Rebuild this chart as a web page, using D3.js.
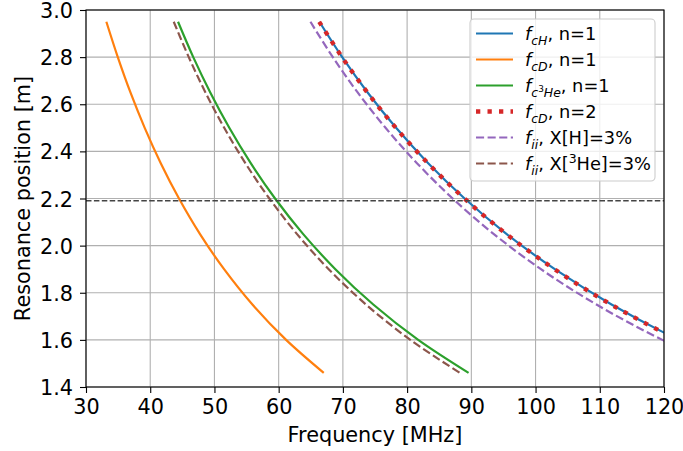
<!DOCTYPE html>
<html><head><meta charset="utf-8">
<script src="https://cdn.jsdelivr.net/npm/d3@7"></script>
<style>body{margin:0;background:#fff}svg{display:block}</style>
</head><body>
<svg id="c" width="683" height="451"></svg>
<script>
// Resonance position [m] (shared sample positions along each curve)
const radius = [2.95, 2.80, 2.65, 2.50, 2.35, 2.20, 2.05, 1.90, 1.75, 1.60, 1.46];
// Frequencies [MHz] read at those positions
const fcH1   = [66.34, 69.89, 73.85, 78.28, 83.28, 88.95, 95.46, 103.00, 111.83, 122.31, 134.04];
const fcD1   = [33.17, 34.95, 36.92, 39.14, 41.64, 44.48, 47.73, 51.50, 55.91, 61.16, 67.02];
const fcHe1  = [44.33, 46.70, 49.35, 52.31, 55.65, 59.44, 63.79, 68.83, 74.73, 81.73, 89.57];
const fcD2   = [66.31, 69.86, 73.81, 78.24, 83.23, 88.91, 95.41, 102.95, 111.77, 122.25, 133.97];
const fiiH   = [64.95, 68.43, 72.30, 76.64, 81.53, 87.09, 93.46, 100.84, 109.49, 119.75, 131.23];
const fiiHe  = [43.66, 46.00, 48.60, 51.52, 54.81, 58.55, 62.83, 67.79, 73.60, 80.50, 88.22];
const refPosition = 2.19;
const xTicks = [30, 40, 50, 60, 70, 80, 90, 100, 110, 120];
const yTicks = [1.4, 1.6, 1.8, 2.0, 2.2, 2.4, 2.6, 2.8, 3.0];
const xTitle = "Frequency [MHz]";
const yTitle = "Resonance position [m]";

const series = [
  {vals: fcH1,  color: "#1f77b4", w: 2.2, dash: null,
   label: [["f","i",0],["cH","i",1],[", n=1","n",0]]},
  {vals: fcD1,  color: "#ff7f0e", w: 2.2, dash: null,
   label: [["f","i",0],["cD","i",1],[", n=1","n",0]]},
  {vals: fcHe1, color: "#2ca02c", w: 2.2, dash: null,
   label: [["f","i",0],["c","i",1],["3","n",3],["He","i",1],[", n=1","n",0]]},
  {vals: fcD2,  color: "#d62728", w: 4.3, dash: "4.3 7.2",
   label: [["f","i",0],["cD","i",1],[", n=2","n",0]]},
  {vals: fiiH,  color: "#9467bd", w: 2.2, dash: "8.1 3.5",
   label: [["f","i",0],["ii","i",1],[", X[H]=3%","n",0]]},
  {vals: fiiHe, color: "#8c564b", w: 2.2, dash: "8.1 3.5",
   label: [["f","i",0],["ii","i",1],[", X[","n",0],["3","n",2],["He]=3%","n",0]]}
];

const L = 86, R = 664, T = 10, B = 387;
const svg = d3.select("#c");
const font = "DejaVu Sans, sans-serif";
const x = d3.scaleLinear().domain([30, 120]).range([L, R]);
const y = d3.scaleLinear().domain([1.4, 3.0]).range([B, T]);

// grid
svg.append("g").selectAll("line").data(xTicks).join("line")
  .attr("x1", d => x(d)).attr("x2", d => x(d)).attr("y1", T).attr("y2", B)
  .attr("stroke", "#b0b0b0").attr("stroke-width", 1.1);
svg.append("g").selectAll("line").data(yTicks).join("line")
  .attr("y1", d => y(d)).attr("y2", d => y(d)).attr("x1", L).attr("x2", R)
  .attr("stroke", "#b0b0b0").attr("stroke-width", 1.1);

svg.append("clipPath").attr("id", "clip").append("rect")
  .attr("x", L).attr("y", T).attr("width", R - L).attr("height", B - T);

const plot = svg.append("g").attr("clip-path", "url(#clip)");
const line = d3.line().x(d => x(d[0])).y(d => y(d[1])).curve(d3.curveCatmullRom);
series.forEach(s => {
  const pts = s.vals.map((f, i) => [f, radius[i]]);
  plot.append("path").attr("d", line(pts)).attr("fill", "none")
    .attr("stroke", s.color).attr("stroke-width", s.w)
    .attr("stroke-dasharray", s.dash);
});
plot.append("line").attr("x1", L).attr("x2", R)
  .attr("y1", y(refPosition)).attr("y2", y(refPosition))
  .attr("stroke", "#444").attr("stroke-width", 1.5).attr("stroke-dasharray", "5.5 2.4");

// axes
const xAxis = svg.append("g").attr("transform", `translate(0,${B})`)
  .call(d3.axisBottom(x).tickValues(xTicks).tickFormat(d3.format("d")).tickSize(6).tickPadding(6));
const yAxis = svg.append("g").attr("transform", `translate(${L},0)`)
  .call(d3.axisLeft(y).tickValues(yTicks).tickFormat(d3.format(".1f")).tickSize(6).tickPadding(7));
[xAxis, yAxis].forEach(a => {
  a.selectAll("text").attr("font-family", font).attr("font-size", 20.8).attr("fill", "#000");
  a.selectAll("line").attr("stroke", "#000").attr("stroke-width", 1.1);
  a.select(".domain").remove();
});
yAxis.selectAll("text").attr("dy", "0.36em");
svg.append("rect").attr("x", L).attr("y", T).attr("width", R - L).attr("height", B - T)
  .attr("fill", "none").attr("stroke", "#000").attr("stroke-width", 1.1);

svg.append("text").attr("x", (L + R) / 2).attr("y", 442).attr("text-anchor", "middle")
  .attr("font-family", font).attr("font-size", 20.8).text(xTitle);
svg.append("text").attr("transform", `translate(30,${(T + B) / 2}) rotate(-90)`)
  .attr("text-anchor", "middle").attr("font-family", font).attr("font-size", 20.8).text(yTitle);

// legend
const lg = svg.append("g");
lg.append("rect").attr("x", 470).attr("y", 19).attr("width", 185).attr("height", 162).attr("rx", 4)
  .attr("fill", "#fff").attr("fill-opacity", 0.8).attr("stroke", "#cccccc").attr("stroke-width", 1.1);
const fs = 17.8;
// level: 0 base, 1 subscript, 2 superscript, 3 superscript on subscript
const lvl = {0: [0, fs], 1: [4.8, fs * 0.7], 2: [-7.5, fs * 0.7], 3: [0, fs * 0.5]};
series.forEach((s, i) => {
  const cy = 33.5 + i * 26;
  lg.append("line").attr("x1", 476).attr("x2", 513).attr("y1", cy).attr("y2", cy)
    .attr("stroke", s.color).attr("stroke-width", s.w).attr("stroke-dasharray", s.dash);
  const t = lg.append("text").attr("x", 525).attr("y", cy + 6.5).attr("font-family", font).attr("font-size", fs);
  let cur = 0;
  s.label.forEach(([txt, st, lv]) => {
    const [off, size] = lvl[lv];
    t.append("tspan").attr("dy", off - cur).attr("font-size", size)
      .attr("font-style", st === "i" ? "italic" : "normal").text(txt);
    cur = off;
  });
});
</script>
</body></html>
